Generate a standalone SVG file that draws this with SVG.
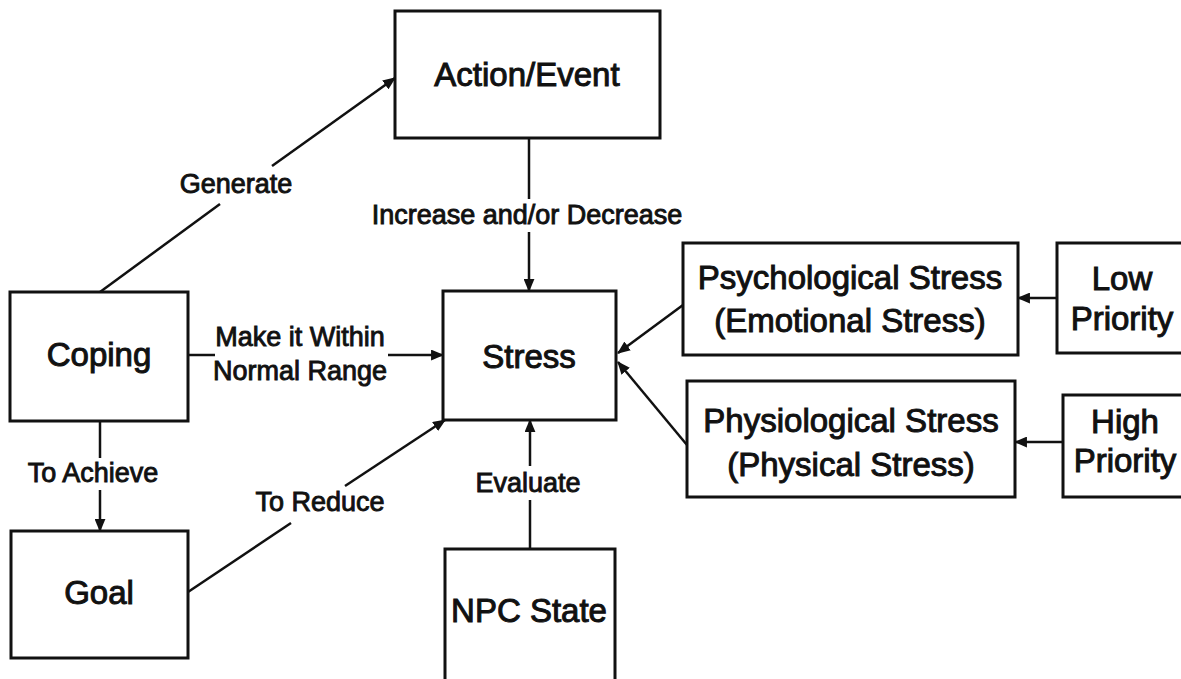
<svg xmlns="http://www.w3.org/2000/svg" width="1181" height="679" viewBox="0 0 1181 679">
  <style>
    .box { fill: #fff; stroke: #111; stroke-width: 3; }
    .node { font-family: "Liberation Sans", Arial, sans-serif; font-size: 33px; fill: #111; stroke: #111; stroke-width: 1; text-anchor: middle; }
    .lbl { font-family: "Liberation Sans", Arial, sans-serif; font-size: 27px; fill: #111; stroke: #111; stroke-width: 0.9; text-anchor: middle; }
    .edge { fill: none; stroke: #111; stroke-width: 2.5; }
  </style>
  <defs>
    <marker id="arrow" viewBox="0 0 12 10" refX="11" refY="5" markerWidth="13" markerHeight="11" markerUnits="userSpaceOnUse" orient="auto">
      <path d="M0,0 L12,5 L0,10 z" fill="#111"/>
    </marker>
  </defs>
  <rect width="1181" height="679" fill="#fff"/>

  <g id="connectors">
    <!-- Coping -> Action/Event (Generate) -->
    <line class="edge" x1="100" y1="292" x2="220" y2="204"/>
    <line class="edge" x1="272" y1="166" x2="395" y2="78" marker-end="url(#arrow)"/>
    <text class="lbl" x="236" y="193">Generate</text>
    <!-- Action/Event -> Stress -->
    <line class="edge" x1="529" y1="138" x2="529" y2="199"/>
    <line class="edge" x1="529" y1="232" x2="529" y2="291" marker-end="url(#arrow)"/>
    <text class="lbl" x="527" y="224">Increase and/or Decrease</text>
    <!-- Coping -> Stress -->
    <line class="edge" x1="188" y1="355" x2="215" y2="355"/>
    <line class="edge" x1="388" y1="355" x2="443" y2="355" marker-end="url(#arrow)"/>
    <text class="lbl" x="300" y="346">Make it Within</text>
    <text class="lbl" x="300" y="380">Normal Range</text>
    <!-- Coping -> Goal -->
    <line class="edge" x1="100" y1="421" x2="100" y2="458"/>
    <line class="edge" x1="100" y1="490" x2="100" y2="531" marker-end="url(#arrow)"/>
    <text class="lbl" x="93" y="482">To Achieve</text>
    <!-- Goal -> Stress -->
    <line class="edge" x1="188" y1="592" x2="291" y2="523"/>
    <line class="edge" x1="345" y1="486" x2="445" y2="420" marker-end="url(#arrow)"/>
    <text class="lbl" x="320" y="511">To Reduce</text>
    <!-- NPC State -> Stress -->
    <line class="edge" x1="530" y1="549" x2="530" y2="500"/>
    <line class="edge" x1="530" y1="466" x2="530" y2="420" marker-end="url(#arrow)"/>
    <text class="lbl" x="528" y="492">Evaluate</text>
    <!-- Psychological / Physiological -> Stress -->
    <line class="edge" x1="683" y1="305" x2="618" y2="353" marker-end="url(#arrow)"/>
    <line class="edge" x1="687" y1="445" x2="618" y2="362" marker-end="url(#arrow)"/>
    <!-- Priority -> stress type -->
    <line class="edge" x1="1057" y1="298" x2="1018" y2="298" marker-end="url(#arrow)"/>
    <line class="edge" x1="1063" y1="442" x2="1015" y2="442" marker-end="url(#arrow)"/>
  </g>

  <g id="action-event">
    <rect class="box" x="395" y="11" width="265" height="127"/>
    <text class="node" x="527" y="86">Action/Event</text>
  </g>
  <g id="coping">
    <rect class="box" x="10" y="292" width="178" height="129"/>
    <text class="node" x="99" y="366">Coping</text>
  </g>
  <g id="goal">
    <rect class="box" x="11" y="531" width="177" height="127"/>
    <text class="node" x="99" y="604">Goal</text>
  </g>
  <g id="stress">
    <rect class="box" x="443" y="291" width="173" height="129"/>
    <text class="node" x="529" y="368">Stress</text>
  </g>
  <g id="npc-state">
    <rect class="box" x="445" y="549" width="170" height="150"/>
    <text class="node" x="529" y="622">NPC State</text>
  </g>
  <g id="psychological-stress">
    <rect class="box" x="683" y="243" width="335" height="112"/>
    <text class="node" x="850" y="289">Psychological Stress</text>
    <text class="node" x="850" y="332">(Emotional Stress)</text>
  </g>
  <g id="physiological-stress">
    <rect class="box" x="687" y="381" width="328" height="116"/>
    <text class="node" x="851" y="432">Physiological Stress</text>
    <text class="node" x="851" y="476">(Physical Stress)</text>
  </g>
  <g id="low-priority">
    <rect class="box" x="1057" y="243" width="140" height="110"/>
    <text class="node" x="1122" y="290">Low</text>
    <text class="node" x="1122" y="330">Priority</text>
  </g>
  <g id="high-priority">
    <rect class="box" x="1063" y="395" width="140" height="102"/>
    <text class="node" x="1125" y="433">High</text>
    <text class="node" x="1125" y="472">Priority</text>
  </g>
</svg>
